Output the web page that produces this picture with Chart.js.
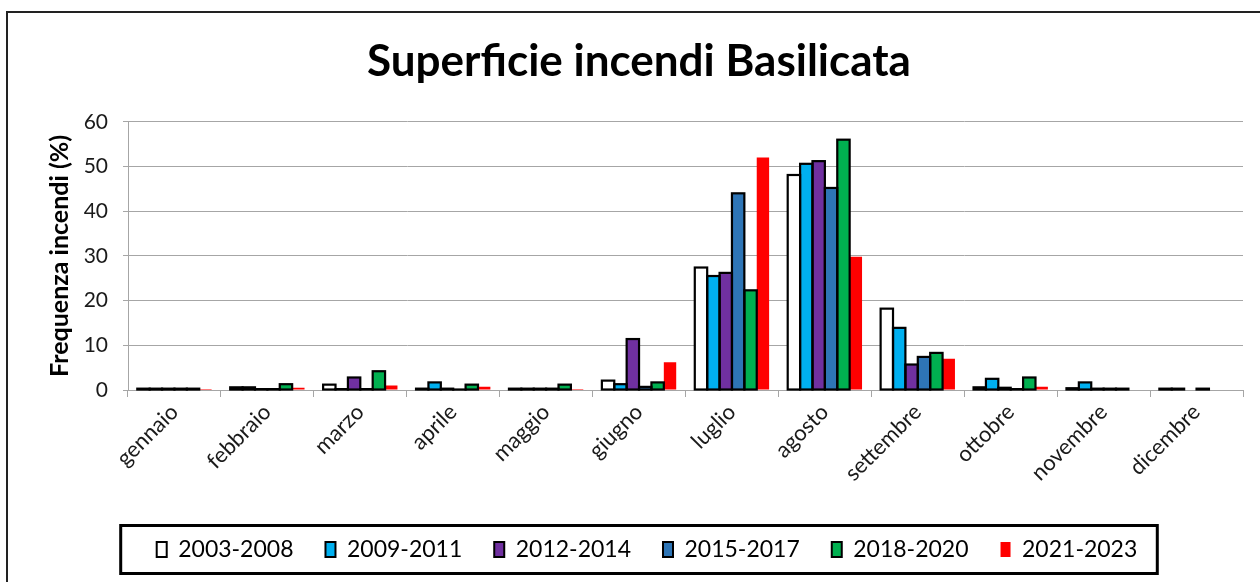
<!DOCTYPE html>
<html>
<head>
<meta charset="utf-8">
<script src="https://cdn.jsdelivr.net/npm/chart.js@4.4.1/dist/chart.umd.min.js"></script>
<style>
  html, body { margin: 0; padding: 0; background: #ffffff; }
  #wrap { width: 1260px; height: 582px; position: relative; }
</style>
</head>
<body>
<div id="wrap"><canvas id="c" width="1260" height="582"></canvas></div>
<script>
const months = ['gennaio','febbraio','marzo','aprile','maggio','giugno','luglio','agosto','settembre','ottobre','novembre','dicembre'];
const seriesNames = ['2003-2008','2009-2011','2012-2014','2015-2017','2018-2020','2021-2023'];
const s2003_2008 = [0.3, 0.6, 1.2, 0.3, 0.3, 2.1, 27.4, 48.1, 18.2, 0.6, 0.4, 0.3];
const s2009_2011 = [0.3, 0.6, 0.2, 1.7, 0.3, 1.3, 25.5, 50.6, 13.9, 2.5, 1.7, 0.3];
const s2012_2014 = [0.3, 0.2, 2.8, 0.3, 0.3, 11.4, 26.2, 51.2, 5.7, 0.5, 0.3, 0];
const s2015_2017 = [0.3, 0.2, 0.2, 0.1, 0.3, 0.7, 44.0, 45.2, 7.4, 0.2, 0.3, 0.3];
const s2018_2020 = [0.3, 1.3, 4.2, 1.2, 1.2, 1.7, 22.3, 56.0, 8.3, 2.8, 0.3, 0];
const s2021_2023 = [0.2, 0.5, 1.0, 0.75, 0.2, 6.2, 52.0, 29.8, 7.0, 0.7, 0, 0];
const yTicks = [0, 10, 20, 30, 40, 50, 60];

const seriesValues = [s2003_2008, s2009_2011, s2012_2014, s2015_2017, s2018_2020, s2021_2023];
const fills = ['#FFFFFF', '#00B0F0', '#7030A0', '#2E75B6', '#00B050', '#FF0000'];
const outlined = [true, true, true, true, true, false];

const FONT = 'Lato, Carlito, "Open Sans", sans-serif';

const datasets = seriesNames.map((name, i) => ({
  label: name,
  data: seriesValues[i],
  backgroundColor: fills[i],
  borderColor: '#000000',
  borderWidth: 0,
  categoryPercentage: 0.8,
  barPercentage: 1.0
}));

// Excel-style outline: stroke centred on the bar edges, using the library's bar elements
const outlinePlugin = {
  id: 'outlines',
  afterDatasetsDraw(chart) {
    const ctx = chart.ctx;
    ctx.save();
    ctx.strokeStyle = '#000000';
    ctx.lineWidth = 2.2;
    ctx.lineJoin = 'miter';
    chart.data.datasets.forEach((ds, di) => {
      if (!outlined[di]) return;
      const meta = chart.getDatasetMeta(di);
      meta.data.forEach((bar, j) => {
        if (!ds.data[j]) return;
        const p = bar.getProps(['x', 'y', 'base', 'width'], true);
        const left = p.x - p.width / 2;
        const top = Math.min(p.y, p.base);
        const h = Math.abs(p.base - p.y);
        ctx.strokeRect(left, top, p.width, h);
      });
    });
    ctx.restore();
  }
};

// nudge the legend slightly right, as in the original
const legendShift = {
  id: 'legendShift',
  afterLayout(chart) {
    if (chart.legend) {
      chart.legend.left += 8;
      chart.legend.right += 8;
    }
  }
};

const framePlugin = {
  id: 'frames',
  afterDraw(chart) {
    const ctx = chart.ctx;
    ctx.save();
    ctx.strokeStyle = '#222222';
    ctx.lineWidth = 2;
    ctx.beginPath();
    ctx.moveTo(7, chart.height);
    ctx.lineTo(7, 12);
    ctx.lineTo(chart.width, 12);
    ctx.stroke();
    const lg = chart.legend;
    if (lg && lg.legendHitBoxes && lg.legendHitBoxes.length) {
      const hb = lg.legendHitBoxes;
      const first = hb[0], last = hb[hb.length - 1];
      const cy = first.top + first.height / 2;
      const x0 = first.left - 36;
      const x1 = last.left + last.width + 20;
      ctx.strokeStyle = '#000000';
      ctx.lineWidth = 3;
      ctx.strokeRect(x0, cy - 24, x1 - x0, 48);
    }
    ctx.restore();
  }
};

new Chart(document.getElementById('c'), {
  type: 'bar',
  data: { labels: months, datasets },
  plugins: [legendShift, outlinePlugin, framePlugin],
  options: {
    responsive: false,
    devicePixelRatio: 1,
    animation: false,
    layout: { padding: { left: 18, right: 0, top: 0, bottom: 11 } },
    plugins: {
      title: {
        display: true,
        text: 'Superficie incendi Basilicata',
        color: '#000000',
        font: { family: FONT, size: 44, weight: 'bold' },
        padding: { top: 35, bottom: 34 }
      },
      legend: {
        display: true,
        position: 'bottom',
        labels: {
          color: '#000000',
          font: { family: FONT, size: 23 },
          boxWidth: 10,
          boxHeight: 15,
          padding: 32,
          generateLabels(chart) {
            const items = Chart.defaults.plugins.legend.labels.generateLabels(chart);
            return items.map((it, i) => Object.assign(it, {
              lineWidth: outlined[i] ? 2 : 0,
              strokeStyle: '#000000'
            }));
          }
        }
      },
      tooltip: { enabled: false }
    },
    scales: {
      x: {
        afterFit(scale) { scale.height = 116; },
        grid: { display: true, drawOnChartArea: false, drawTicks: true, tickLength: 7, color: '#a6a6a6', offset: true },
        border: { display: true, color: '#a6a6a6', width: 1 },
        ticks: { color: '#1a1a1a', font: { family: FONT, size: 22 }, minRotation: 45, maxRotation: 45, padding: 2 }
      },
      y: {
        min: 0,
        max: 60,
        afterFit(scale) { scale.width = 110; },
        afterBuildTicks(scale) { scale.ticks = yTicks.map(v => ({ value: v })); },
        grid: { color: '#a6a6a6', lineWidth: 1, tickLength: 5, drawTicks: true },
        border: { display: true, color: '#a6a6a6', width: 1 },
        ticks: { color: '#1a1a1a', font: { family: FONT, size: 21 }, padding: 15 },
        title: {
          display: true,
          text: 'Frequenza incendi (%)',
          color: '#000000',
          font: { family: FONT, size: 25, weight: 'bold' },
          padding: { top: 27, bottom: 0 }
        }
      },
      yRight: {
        position: 'right',
        display: true,
        afterFit(scale) { scale.width = 17; },
        grid: { display: false },
        border: { display: false },
        ticks: { display: false }
      }
    }
  }
});
</script>
</body>
</html>
